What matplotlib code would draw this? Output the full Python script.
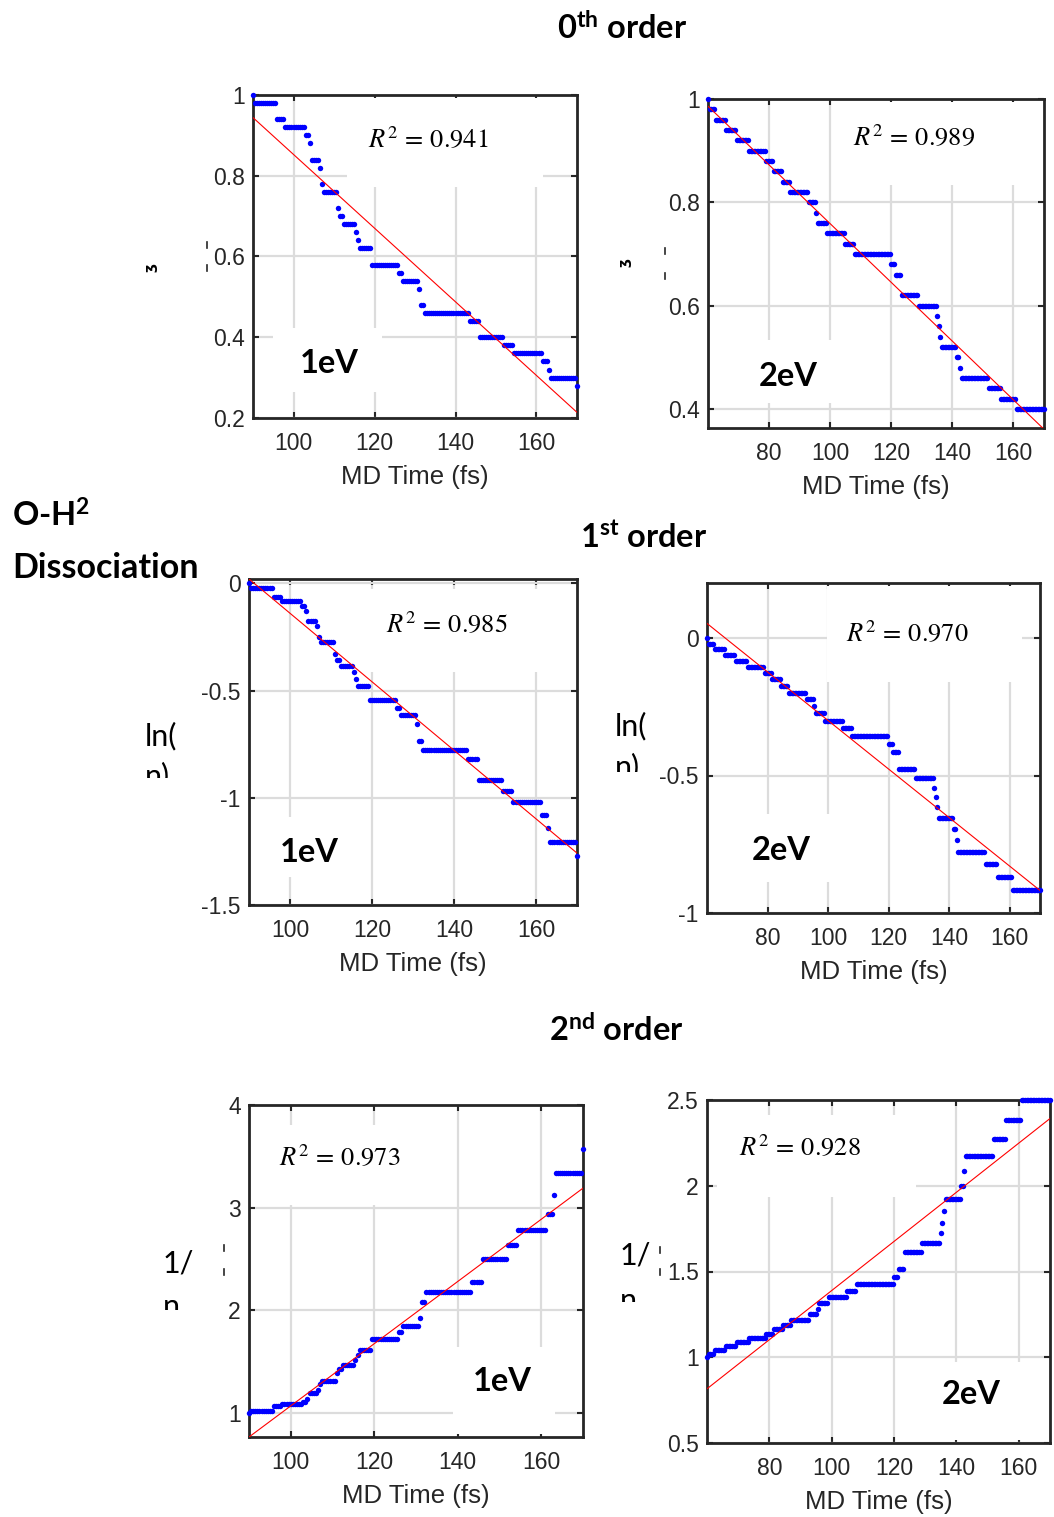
import matplotlib
matplotlib.use("Agg")
import matplotlib.pyplot as plt
import numpy as np
from matplotlib.patches import Rectangle
from matplotlib.lines import Line2D
from matplotlib.ticker import FuncFormatter
from matplotlib.transforms import Bbox, TransformedBbox

# fraction n(t) of intact O-H bonds: time (fs) at which each level starts
t_steps_1ev = [90, 90.5, 96, 98, 103, 104, 104.5, 106.5, 107, 107.5, 111, 111.5,
               112.5, 115.5, 116, 116.5, 119.5, 126, 127, 131, 131.5, 132.5, 143.5,
               146, 152, 154.5, 161.5, 163, 163.5, 170]
n_levels_1ev = [1.00, 0.98, 0.94, 0.92, 0.90, 0.88, 0.84, 0.82, 0.78, 0.76, 0.72, 0.70,
                0.68, 0.66, 0.64, 0.62, 0.58, 0.56, 0.54, 0.52, 0.48, 0.46, 0.44,
                0.40, 0.38, 0.36, 0.34, 0.32, 0.30, 0.28]

t_steps_2ev = [60, 60.5, 62.5, 66, 69.5, 73.5, 79, 81.5, 84.5, 87, 93, 95.5, 96, 99,
               105, 108, 120, 121.5, 123.5, 129, 135, 135.5, 136, 136.5, 141.5, 142.5,
               143, 152, 156, 161]
n_levels_2ev = [1.00, 0.98, 0.96, 0.94, 0.92, 0.90, 0.88, 0.86, 0.84, 0.82, 0.80, 0.78,
                0.76, 0.74, 0.72, 0.70, 0.68, 0.66, 0.62, 0.60, 0.58, 0.56, 0.54, 0.52,
                0.50, 0.48, 0.46, 0.44, 0.42, 0.40]

t_end = 170.0
dt = 0.5

# red linear fits (slope, intercept) for 0th, 1st and 2nd order
fit_1ev = [(-0.009125, 1.76525), (-0.015975, 1.4578), (0.0303, -1.961)]
fit_2ev = [(-0.005686, 1.3272), (-0.008827, 0.5826), (0.014327, -0.0436)]
r2_1ev = [0.941, 0.985, 0.973]
r2_2ev = [0.989, 0.970, 0.928]

W, H = 1054, 1517
DARK = "#262626"

plt.rcParams["font.family"] = ["Liberation Sans", "DejaVu Sans"]
plt.rcParams["mathtext.fontset"] = "custom"
plt.rcParams["mathtext.rm"] = "Lato"
plt.rcParams["mathtext.bf"] = "Lato:bold"
plt.rcParams["mathtext.it"] = "Lato:italic"

fig = plt.figure(figsize=(W / 100, H / 100), dpi=100)


def px_rect(x0, y0, x1, y1):
    return [x0 / W, 1 - y1 / H, (x1 - x0) / W, (y1 - y0) / H]


def ftext(x, y, s, **kw):
    return fig.text(x / W, 1 - y / H, s, **kw)


def sample(t_steps, levels):
    t = np.arange(t_steps[0], t_end + dt / 2, dt)
    idx = np.searchsorted(t_steps, t, side="right") - 1
    return t, np.asarray(levels)[idx]


orders = [lambda n: n, np.log, lambda n: 1.0 / n]

# layout of each panel (pixel boxes)
panels = [
    dict(order=0, ev="1eV", rect=(253, 95, 577, 418), xlim=(90, 170), ylim=(0.2, 1.0),
         yticks=[0.2, 0.4, 0.6, 0.8, 1], r2_at=(368, 147), lab_at=(300, 373),
         boxes=[(0.29, 0.715, 0.605, 0.275), (0.062, 0.08, 0.336, 0.2)]),
    dict(order=0, ev="2eV", rect=(708, 99, 1044, 428), xlim=(60, 170), ylim=(0.363, 1.0),
         yticks=[0.4, 0.6, 0.8, 1], r2_at=(853, 145), lab_at=(759, 386),
         boxes=[(0.42, 0.74, 0.56, 0.25), (0.125, 0.076, 0.275, 0.192)]),
    dict(order=1, ev="1eV", rect=(249, 579, 577, 905), xlim=(90, 170), ylim=(-1.5, 0.02),
         yticks=[-1.5, -1, -0.5, 0], r2_at=(386, 632), lab_at=(280, 862),
         boxes=[(0.27, 0.715, 0.68, 0.255), (0.064, 0.086, 0.306, 0.184)]),
    dict(order=1, ev="2eV", rect=(707, 583, 1040, 913), xlim=(60, 170), ylim=(-1.0, 0.2),
         yticks=[-1, -0.5, 0], r2_at=(846, 641), lab_at=(752, 860),
         boxes=[(0.36, 0.70, 0.586, 0.29), (0.144, 0.094, 0.286, 0.206)]),
    dict(order=2, ev="1eV", rect=(249, 1105, 583, 1437), xlim=(90, 170), ylim=(0.766, 4.0),
         yticks=[1, 2, 3, 4], r2_at=(279, 1165), lab_at=(473, 1391),
         boxes=[(0.01, 0.70, 0.54, 0.24), (0.61, 0.01, 0.306, 0.26)]),
    dict(order=2, ev="2eV", rect=(707, 1100, 1050, 1443), xlim=(60, 170), ylim=(0.5, 2.5),
         yticks=[0.5, 1, 1.5, 2, 2.5], r2_at=(739, 1155), lab_at=(942, 1404),
         boxes=[(0.03, 0.717, 0.58, 0.239), (0.71, 0.01, 0.28, 0.227)]),
]

series = {"1eV": sample(t_steps_1ev, n_levels_1ev),
          "2eV": sample(t_steps_2ev, n_levels_2ev)}
fits = {"1eV": fit_1ev, "2eV": fit_2ev}
r2s = {"1eV": r2_1ev, "2eV": r2_2ev}

for p in panels:
    ax = fig.add_axes(px_rect(*p["rect"]))
    t, n = series[p["ev"]]
    y = orders[p["order"]](n)
    ax.plot(t, y, "o", ms=3.9, mew=0, color="#0000ff", clip_on=False, zorder=2.6)

    slope, icpt = fits[p["ev"]][p["order"]]
    xs = np.array(p["xlim"], dtype=float)
    ax.plot(xs, slope * xs + icpt, color="red", lw=0.8, zorder=2.7)

    ax.set_xlim(*p["xlim"])
    ax.set_ylim(*p["ylim"])
    ax.set_xticks([80, 100, 120, 140, 160] if p["xlim"][0] < 80 else [100, 120, 140, 160])
    ax.set_yticks(p["yticks"])
    ax.yaxis.set_major_formatter(FuncFormatter(lambda v, _: f"{v:g}"))
    ax.set_axisbelow(True)
    ax.grid(True, color="#dcdcdc", lw=1.6)
    ax.tick_params(direction="in", length=4, width=1.5, top=True, right=True,
                   colors=DARK, labelsize=16.5)
    ax.tick_params(axis="x", pad=10)
    ax.tick_params(axis="y", pad=6)
    for sp in ax.spines.values():
        sp.set_color(DARK)
        sp.set_linewidth(2)
    ax.set_xlabel("MD Time (fs)", fontsize=18.5, color=DARK, labelpad=7)

    # white text boxes from the original figure hide the grid behind them
    for bx in p["boxes"]:
        ax.add_patch(Rectangle(bx[:2], bx[2], bx[3], transform=ax.transAxes,
                               facecolor="white", edgecolor="none", zorder=1))

    r2 = r2s[p["ev"]][p["order"]]
    ftext(*p["r2_at"], rf"$R^{{2}}\, =\, {r2:.3f}$", math_fontfamily="stix",
          fontsize=19, ha="left", va="baseline", zorder=5)
    ftext(*p["lab_at"], p["ev"], family="Lato", weight="bold", fontsize=23.5,
          ha="left", va="baseline")

# section titles
title_kw = dict(family="Lato", weight="bold", fontsize=23.5, ha="left", va="baseline")
ftext(557, 40, r"$\mathbf{0^{th}}$ order", **title_kw)
ftext(580, 548, r"$\mathbf{1^{st}}$ order", **title_kw)
ftext(549, 1042, r"$\mathbf{2^{nd}}$ order", **title_kw)
ftext(12, 527, r"O-$\mathbf{H^{2}}$", **title_kw)
ftext(12, 578, "Dissociation", **dict(title_kw, fontsize=24.5))


# cropped y-labels left over from the pasted figures
def clipped(x, y, s, clip_y):
    t = ftext(x, y, s, family="Lato", fontsize=22, ha="left", va="baseline")
    box = Bbox([[0, 1 - clip_y / H], [1, 1]])
    t.set_clip_box(TransformedBbox(box, fig.transFigure))
    t.set_clip_on(True)


for x, y1, y2, cy, s1, s2 in [(145, 745, 785, 778, "ln(", "n)"),
                              (615, 735, 776, 772, "ln(", "n)"),
                              (163, 1272, 1316, 1310, "1/", "n"),
                              (620, 1265, 1310, 1302, "1/", "n")]:
    clipped(x, y1, s1, cy)
    clipped(x, y2, s2, cy)

for x, y in [(150, 268), (624, 263)]:
    ftext(x, y, "ʒ", family="DejaVu Sans", weight="bold", fontsize=10, rotation=90,
          ha="center", va="center")

for x, y in [(207, 245), (207, 268), (665, 251), (665, 276),
             (224, 1248), (224, 1272), (660, 1250), (660, 1272)]:
    fig.add_artist(Line2D([x / W, x / W], [1 - (y - 3) / H, 1 - (y + 3) / H],
                          transform=fig.transFigure, color=DARK, lw=1.2))

fig.savefig("out.png", dpi=100)
